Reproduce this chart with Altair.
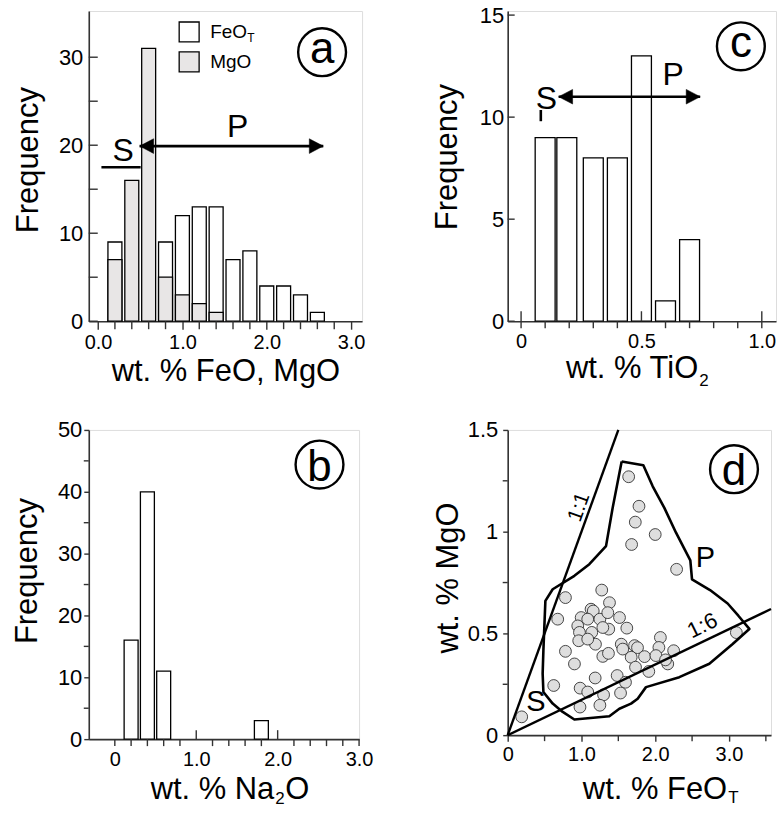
import altair as alt
import pandas as pd

FONT = "Liberation Sans"
FRAME = "#333333"
GRAY = "#e8e6e6"
PT_FILL = "#dedede"

# ---------------- data ----------------
feo_bin = [0.2, 0.8, 1.0, 1.2, 1.4, 1.6, 1.8, 2.0, 2.2, 2.4, 2.6]
feo_cnt = [9, 9, 12, 13, 13, 7, 8, 4, 4, 3, 1]
mgo_bin = [0.2, 0.4, 0.6, 0.8, 1.0, 1.2, 1.4]
mgo_cnt = [7, 16, 31, 5, 3, 2, 1]

tio2_bin = [0.1, 0.19, 0.3, 0.4, 0.5, 0.6, 0.7]
tio2_cnt = [9, 9, 8, 8, 13, 1, 4]

na2o_bin = [0.2, 0.4, 0.6, 1.8]
na2o_cnt = [16, 40, 11, 3]

feot_pts = [0.19, 1.64, 1.78, 1.73, 2.0, 1.68, 2.29, 3.10,
            1.275, 0.783, 1.38, 0.678, 1.13, 1.16, 0.996, 1.085, 1.25, 1.357,
            1.516, 1.615, 1.37, 1.29, 0.95, 0.973, 1.14, 0.963, 1.19, 1.085,
            0.783, 1.29, 1.366, 1.54, 1.56, 1.72, 1.76, 1.674, 1.855, 2.07,
            2.05, 2.01, 2.25, 2.17, 2.14, 1.733, 1.913, 0.905, 0.624, 1.186,
            1.484, 1.597, 0.982, 1.085, 1.30, 1.53, 0.98, 1.25]
mgo_pts = [0.09, 1.27, 1.125, 1.047, 0.986, 0.937, 0.815, 0.504,
           0.713, 0.676, 0.651, 0.570, 0.619, 0.61, 0.578, 0.570, 0.570, 0.602,
           0.578, 0.526, 0.521, 0.529, 0.537, 0.505, 0.505, 0.464, 0.447, 0.472,
           0.412, 0.387, 0.402, 0.447, 0.423, 0.44, 0.43, 0.383, 0.386, 0.48,
           0.431, 0.391, 0.415, 0.35, 0.37, 0.334, 0.313, 0.35, 0.244, 0.281,
           0.293, 0.26, 0.231, 0.212, 0.198, 0.207, 0.138, 0.147]

poly_x = [1.545, 1.839, 1.966, 2.124, 2.282, 2.476, 2.499, 2.743, 2.982, 3.127,
          3.276, 3.050, 2.734, 2.327, 1.875, 1.762, 1.672, 1.514, 1.378, 0.904,
          0.746, 0.610, 0.484, 0.474, 0.484, 0.511, 0.610, 0.904, 1.107, 1.333,
          1.423, 1.545]
poly_y = [1.345, 1.326, 1.223, 1.117, 0.995, 0.859, 0.766, 0.713, 0.647, 0.587,
          0.522, 0.448, 0.351, 0.285, 0.236, 0.179, 0.155, 0.130, 0.093, 0.077,
          0.114, 0.155, 0.212, 0.302, 0.416, 0.660, 0.717, 0.783, 0.840, 0.929,
          1.117, 1.345]

ref_x1 = [0, 0]
ref_y1 = [0, 0]
ref_x2 = [1.5, 3.57]
ref_y2 = [1.5, 0.62]

# tick positions (major = labelled, minor = unlabelled)
a_xmajor = [0, 1, 2, 3]
a_xminor = [0.2, 0.4, 0.6, 0.8, 1.2, 1.4, 1.6, 1.8, 2.2, 2.4, 2.6, 2.8]
a_ylabels = [0, 10, 20, 30]
a_yticks = [0, 5, 10, 15, 20, 25, 30]
c_xlabels = [0, 0.5, 1.0]
c_xminor = [0, 0.1, 0.2, 0.3, 0.4, 0.6, 0.7, 0.8, 0.9, 1.0]
c_yticks = [0, 5, 10, 15]
b_xlabels = [0, 1, 2, 3]
b_xdown = [0, 0.2, 0.4, 0.6, 0.8, 1.2, 1.4, 1.6, 1.8, 2.2, 2.4, 2.6, 2.8, 3.0]
b_xup = [1.0, 2.0]
b_ymajor = [0, 10, 20, 30, 40, 50]
b_yminor = [5, 15, 25, 35, 45]
d_xmajor = [0, 1, 2, 3]
d_xminor = [0.5, 1.5, 2.5, 3.5]
d_ymajor = [0, 0.5, 1.0, 1.5]
d_yminor = [0.25, 0.75, 1.25]

LAB_1F = "format(datum.value, '.1f')"
LAB_Z1F = "abs(datum.value) < 0.001 ? '0' : format(datum.value, '.1f')"
LAB_PLAIN = "'' + datum.value"


def axis(values, expr, title, tick_size, label_pad, title_pad, ticks=True, label_size=21,
         title_y=None):
    kw = dict(values=values, labelExpr=expr, ticks=ticks,
              tickSize=tick_size if ticks else 0, labelPadding=label_pad, titlePadding=title_pad,
              labelFontSize=label_size, titleFontSize=31, labelOverlap=False,
              labelFlush=False, grid=False, domainColor=FRAME, domainWidth=1.6,
              tickColor=FRAME, tickWidth=1.4, labelColor="black", titleColor="black",
              titleFontWeight="normal", labelFont=FONT, titleFont=FONT)
    kw["title"] = title if title is not None else ""
    if title_y is not None:
        kw["titleY"] = title_y
    return alt.Axis(**kw)


def lin(domain):
    return alt.Scale(domain=domain, nice=False, zero=False, padding=0)


class Panel:
    def __init__(self, xscale, yscale, xaxis, yaxis, w, h):
        self.xs, self.ys, self.xa, self.ya, self.w, self.h = xscale, yscale, xaxis, yaxis, w, h

    def X(self, f):
        return alt.X(f, scale=self.xs, axis=self.xa)

    def Y(self, f):
        return alt.Y(f, scale=self.ys, axis=self.ya, stack=None)

    def xticks(self, values, p0, p1):
        return alt.Chart(pd.DataFrame({"v": values})).mark_rule(
            stroke=FRAME, strokeWidth=1.4).encode(
            x=self.X("v:Q"), y=alt.value(self.h + p0), y2=alt.value(self.h + p1))

    def yticks(self, values, p0, p1):
        return alt.Chart(pd.DataFrame({"v": values})).mark_rule(
            stroke=FRAME, strokeWidth=1.4).encode(
            y=self.Y("v:Q"), x=alt.value(p0), x2=alt.value(p1))


def title_piece(text, x, y, size, align):
    # axis-title text placed below the plot (pieces allow real subscripts)
    return alt.Chart(pd.DataFrame({"t": [text]})).mark_text(
        fontSize=size, font=FONT, align=align, baseline="alphabetic", color="black").encode(
        x=alt.value(x), y=alt.value(y), text="t:N")


RIGHT_HEAD = "M0,0L-2,-1.05L-2,1.05Z"
LEFT_HEAD = "M0,0L2,-1.05L2,1.05Z"
CIRCLE_SIZE = 2300


def letter_circle(p, df, dy):
    c = alt.Chart(df).mark_point(shape="circle", size=CIRCLE_SIZE, filled=False,
                                 stroke="black", strokeWidth=2.4, opacity=1).encode(
        x=p.X("x:Q"), y=p.Y("y:Q"))
    t = alt.Chart(df).mark_text(fontSize=44, font=FONT, baseline="alphabetic", align="center",
                                dy=dy, color="black").encode(
        x=p.X("x:Q"), y=p.Y("y:Q"), text="t:N")
    return [c, t]


def big_text(p, df, size):
    return alt.Chart(df).mark_text(fontSize=size, font=FONT, baseline="middle", align="center",
                                   color="black").encode(
        x=p.X("x:Q"), y=p.Y("y:Q"), text="t:N")


def arrow(p, df):
    shaft = alt.Chart(df).mark_rule(stroke="black", strokeWidth=2.6).encode(
        x=p.X("x1:Q"), x2="x2:Q", y=p.Y("y:Q"))
    lh = alt.Chart(df).mark_point(shape=LEFT_HEAD, size=196, filled=True, fill="black",
                                  stroke="black", strokeWidth=0.5, opacity=1).encode(
        x=p.X("x1:Q"), y=p.Y("y:Q"))
    rh = alt.Chart(df).mark_point(shape=RIGHT_HEAD, size=196, filled=True, fill="black",
                                  stroke="black", strokeWidth=0.5, opacity=1).encode(
        x=p.X("x2:Q"), y=p.Y("y:Q"))
    return [shaft, lh, rh]


def bars(p, df, size, fill):
    return alt.Chart(df).mark_bar(size=size, orient="vertical", fill=fill, stroke="black",
                                  strokeWidth=1.3).encode(x=p.X("x:Q"), y=p.Y("n:Q"))


# ---------------- panel a ----------------
W_A, H_A = 274, 311
pa = Panel(lin([-0.11, 3.13]), lin([0, 35.25]),
           axis(a_xmajor, LAB_1F, "wt. % FeO, MgO", 8, 3, 4, label_size=20),
           axis(a_ylabels, LAB_PLAIN, "Frequency", 0, 6, 14, ticks=False, label_size=22,
                title_y=149),
           W_A, H_A)
fe_df = pd.DataFrame({"x": feo_bin, "n": feo_cnt})
mg_df = pd.DataFrame({"x": mgo_bin, "n": mgo_cnt})
a_sbar = alt.Chart(pd.DataFrame({"x1": [0.04], "x2": [0.505], "y": [17.5]})).mark_rule(
    stroke="black", strokeWidth=2.6).encode(x=pa.X("x1:Q"), x2="x2:Q", y=pa.Y("y:Q"))
a_arrow = arrow(pa, pd.DataFrame({"x1": [0.493], "x2": [2.67], "y": [19.9]}))
a_sp = big_text(pa, pd.DataFrame({"x": [0.297, 1.656], "y": [19.38, 22.1], "t": ["S", "P"]}), 32)
a_circ = letter_circle(pa, pd.DataFrame({"x": [2.656], "y": [30.57], "t": ["a"]}), 11)
leg_df = pd.DataFrame({"x": [1.08, 1.08], "y": [32.87, 29.47], "c": ["FeO", "MgO"],
                       "tx": [1.33, 1.33]})
a_leg_box = alt.Chart(leg_df).mark_square(size=400, stroke="black", strokeWidth=1.3, opacity=1).encode(
    x=pa.X("x:Q"), y=pa.Y("y:Q"),
    fill=alt.Fill("c:N", scale=alt.Scale(domain=["FeO", "MgO"], range=["white", GRAY]), legend=None))
a_leg_txt = alt.Chart(leg_df).mark_text(fontSize=19, font=FONT, align="left", baseline="middle",
                                        color="black").encode(
    x=pa.X("tx:Q"), y=pa.Y("y:Q"), text="c:N")
a_leg_sub = alt.Chart(leg_df.iloc[:1]).mark_text(fontSize=12, font=FONT, align="left",
                                                 baseline="middle", dx=37, dy=6,
                                                 color="black").encode(
    x=pa.X("tx:Q"), y=pa.Y("y:Q"), text=alt.value("T"))
panel_a = alt.layer(bars(pa, fe_df, 14, "white"), bars(pa, mg_df, 14, GRAY),
                    pa.yticks(a_yticks, 0, 9), pa.xticks(a_xminor, 0, 8), a_sbar,
                    *a_arrow, a_sp, *a_circ, a_leg_box, a_leg_txt, a_leg_sub
                    ).properties(width=W_A, height=H_A)

# ---------------- panel c ----------------
W_C, H_C = 269, 311
pc = Panel(lin([-0.0556, 1.059]), lin([0, 15.2]),
           axis(c_xlabels, LAB_Z1F, None, 0, 10, 1, ticks=False, label_size=20),
           axis(c_yticks, LAB_PLAIN, "Frequency", 0, 4, 16, ticks=False, label_size=22,
                title_y=146),
           W_C, H_C)
ti_df = pd.DataFrame({"x": tio2_bin, "n": tio2_cnt})
c_sbar = alt.Chart(pd.DataFrame({"x": [0.082], "y1": [9.8], "y2": [10.35]})).mark_rule(
    stroke="black", strokeWidth=2.6).encode(x=pc.X("x:Q"), y=pc.Y("y1:Q"), y2="y2:Q")
c_arrow = arrow(pc, pd.DataFrame({"x1": [0.156], "x2": [0.744], "y": [11.0]}))
c_sp = big_text(pc, pd.DataFrame({"x": [0.105, 0.632], "y": [10.9, 12.04], "t": ["S", "P"]}), 32)
c_circ = letter_circle(pc, pd.DataFrame({"x": [0.913], "y": [13.47], "t": ["c"]}), 11)
c_title = [title_piece("wt. % TiO", 191, 368, 31, "right"),
           title_piece("2", 192, 376, 17, "left")]
panel_c = alt.layer(bars(pc, ti_df, 20, "white"), pc.yticks(c_yticks, 0, 7),
                    pc.xticks(c_xlabels, 0, -10), pc.xticks(c_xminor, 0, 7), c_sbar,
                    *c_arrow, c_sp, *c_circ, *c_title).properties(width=W_C, height=H_C)

# ---------------- panel b ----------------
W_B, H_B = 271, 310
pb = Panel(lin([-0.32, 3.0]), lin([0, 50]),
           axis(b_xlabels, LAB_Z1F, None, 0, 10, 1, ticks=False, label_size=20),
           axis(b_ymajor, LAB_PLAIN, "Frequency", 5, 2, 14, label_size=22, title_y=141),
           W_B, H_B)
na_df = pd.DataFrame({"x": na2o_bin, "n": na2o_cnt})
b_circ = letter_circle(pb, pd.DataFrame({"x": [2.514], "y": [44.4], "t": ["b"]}), 16)
b_title = [title_piece("wt. % Na", 186, 370, 31, "right"),
           title_piece("2", 187, 375, 17, "left"),
           title_piece("O", 197, 370, 31, "left")]
panel_b = alt.layer(bars(pb, na_df, 14, "white"), pb.xticks(b_xdown, 0, 7),
                    pb.xticks(b_xup, 0, -9), pb.yticks(b_yminor, 0, -5),
                    *b_circ, *b_title).properties(width=W_B, height=H_B)

# ---------------- panel d ----------------
W_D, H_D = 264, 306
pd_ = Panel(lin([0, 3.57]), lin([0, 1.5]),
            axis(d_xmajor, LAB_Z1F, None, 6, 3, 1, label_size=20),
            axis(d_ymajor, LAB_PLAIN, "wt. % MgO", 5, 5, 3, label_size=22, title_y=148),
            W_D, H_D)
pts_df = pd.DataFrame({"x": feot_pts, "y": mgo_pts})
poly_df = pd.DataFrame({"x": poly_x, "y": poly_y, "i": list(range(len(poly_x)))})
ref_df = pd.DataFrame({"x1": ref_x1, "y1": ref_y1, "x2": ref_x2, "y2": ref_y2})

d_pts = alt.Chart(pts_df).mark_circle(size=140, fill=PT_FILL, stroke="#333333", strokeWidth=0.9,
                                      opacity=1).encode(x=pd_.X("x:Q"), y=pd_.Y("y:Q"))
d_refs = alt.Chart(ref_df).mark_rule(stroke="black", strokeWidth=2.4).encode(
    x=pd_.X("x1:Q"), y=pd_.Y("y1:Q"), x2="x2:Q", y2="y2:Q")
d_poly = alt.Chart(poly_df).mark_line(stroke="black", strokeWidth=2.6, strokeJoin="round").encode(
    x=pd_.X("x:Q"), y=pd_.Y("y:Q"), order="i:Q")
d_l11 = alt.Chart(pd.DataFrame({"x": [0.97], "y": [1.12], "t": ["1:1"]})).mark_text(
    fontSize=21, font=FONT, angle=290, baseline="middle", align="center", color="black").encode(
    x=pd_.X("x:Q"), y=pd_.Y("y:Q"), text="t:N")
d_l16 = alt.Chart(pd.DataFrame({"x": [2.64], "y": [0.538], "t": ["1:6"]})).mark_text(
    fontSize=22, font=FONT, angle=334, baseline="middle", align="center", color="black").encode(
    x=pd_.X("x:Q"), y=pd_.Y("y:Q"), text="t:N")
d_sp = big_text(pd_, pd.DataFrame({"x": [0.383, 2.68], "y": [0.163, 0.872], "t": ["S", "P"]}), 29)
d_circ = letter_circle(pd_, pd.DataFrame({"x": [3.068], "y": [1.307], "t": ["d"]}), 16)
d_title = [title_piece("wt. % FeO", 220, 370, 31, "right"),
           title_piece("T", 221, 374, 17, "left")]
panel_d = alt.layer(d_pts, d_refs, d_poly, pd_.xticks(d_xminor, 0, 6), pd_.yticks(d_yminor, 0, -5),
                    d_l11, d_l16, d_sp, *d_circ, *d_title
                    ).properties(width=W_D, height=H_D)

chart = alt.concat(panel_a, panel_c, panel_b, panel_d, columns=2,
                   spacing={"row": 109, "column": 146}, bounds="flush").properties(
    padding={"left": 11, "top": 2, "right": 0, "bottom": 2}
).configure_view(stroke=FRAME, strokeWidth=1.6).configure(font=FONT, background="white")

chart.save("out.html", embed_options={"renderer": "svg", "actions": False})
